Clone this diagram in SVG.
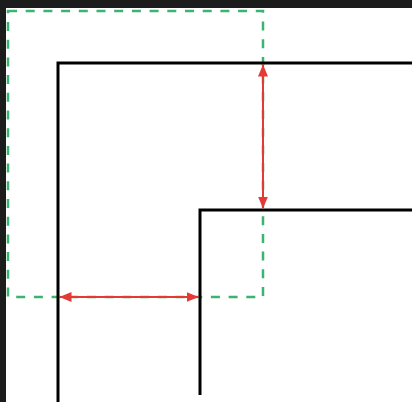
<svg xmlns="http://www.w3.org/2000/svg" width="412" height="402" viewBox="0 0 412 402">
<style>
.wall{fill:none;stroke:#000;stroke-width:3}
.zone{fill:none;stroke:#3cb371;stroke-width:2.5;stroke-dasharray:9 8.7}
.dim{fill:none;stroke:#e53935;stroke-width:2}
</style>
<defs>
<marker id="ah" viewBox="0 0 12 10" refX="12" refY="5" markerWidth="12" markerHeight="10" markerUnits="userSpaceOnUse" orient="auto-start-reverse">
<path d="M0,0 L12,5 L0,10 Z" fill="#e53935"/>
</marker>
</defs>
<rect x="0" y="0" width="412" height="402" fill="#1c1c1c"/>
<rect x="6" y="8" width="406" height="394" fill="#fff"/>
<g id="zone"><rect class="zone" x="8" y="11" width="255" height="286"/></g>
<g id="outer-wall"><path class="wall" d="M58,402 V63 H412"/></g>
<g id="inner-wall"><path class="wall" d="M200,395 V210 H412"/></g>
<g id="connectors">
<line class="dim" x1="263" y1="64.5" x2="263" y2="208.5" marker-start="url(#ah)" marker-end="url(#ah)"/>
<line class="dim" x1="59.5" y1="297" x2="198.5" y2="297" marker-start="url(#ah)" marker-end="url(#ah)"/>
</g>
</svg>
